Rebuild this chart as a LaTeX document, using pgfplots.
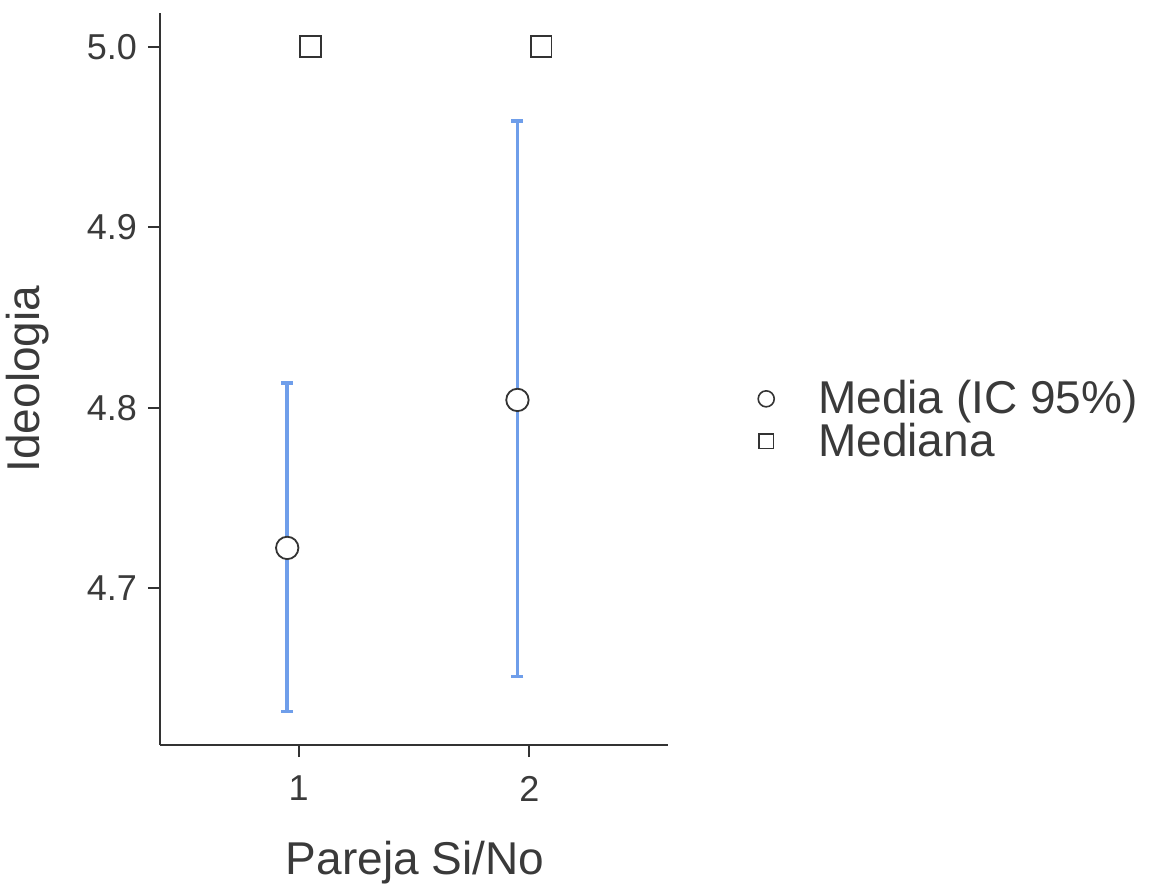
\documentclass[border=0pt]{standalone}
\usepackage{pgfplots}
\pgfplotsset{compat=1.18}
\usepackage{fontspec}
\setmainfont{Liberation Sans}
\definecolor{axc}{HTML}{333333}
\definecolor{txc}{HTML}{3A3A3A}
\definecolor{ebc}{HTML}{6F9EEA}
\begin{document}
\begin{tikzpicture}
\useasboundingbox (-80pt,-70pt) rectangle (500.5pt,372.5pt);
\begin{axis}[
  scale only axis,
  width=254pt, height=366pt,
  xmin=0.4, xmax=2.6,
  ymin=4.6131, ymax=5.0187,
  axis lines=left,
  axis line style={-, line width=1pt, color=axc},
  xtick={1,2}, ytick={4.7,4.8,4.9,5.0},
  tick align=outside, major tick length=6pt,
  tick style={line width=1pt, color=axc},
  /pgf/number format/assume math mode=true,
  yticklabel style={/pgf/number format/fixed, /pgf/number format/fixed zerofill, /pgf/number format/precision=1, xshift=-2pt},
  ticklabel style={font=\fontsize{18}{21}\selectfont, text=txc},
  xticklabel style={yshift=-6pt},
  xlabel={Pareja Si/No}, ylabel={Ideologia},
  label style={font=\fontsize{23}{27}\selectfont, text=txc},
  xlabel style={at={(axis description cs:0.502,-0.16)}, anchor=center},
  ylabel style={at={(axis description cs:-0.26,0.5)}, anchor=center, rotate=0},
  legend style={draw=none, fill=none, at={(axis description cs:1.165,0.444)}, anchor=west,
    font=\fontsize{23}{27}\selectfont, text=txc, row sep=-1pt,
    /tikz/column 1/.style={column sep=20pt},
    legend cell align=left},
  clip=false,
]
% error bars (95% CI)
\addplot[forget plot, only marks, mark=none,
  error bars/.cd, y dir=both, y explicit,
  error bar style={line width=1.8pt, color=ebc},
  error mark=|, error mark options={line width=1.8pt, color=ebc, mark size=3pt}]
  table[x=x, y=y, y error plus=ep, y error minus=em] {
x y ep em
0.951 4.7223 0.0914 0.0907
1.948 4.8043 0.1545 0.1533
};
% means
\addplot[forget plot, only marks, mark=*, mark size=5.6pt,
  mark options={fill=white, draw=axc, line width=0.9pt}]
  coordinates {(0.951,4.7223) (1.948,4.8043)};
% medians
\addplot[forget plot, only marks, mark=square*, mark size=5.2pt,
  mark options={fill=white, draw=axc, line width=0.9pt}]
  coordinates {(1.052,5.0) (2.05,5.0)};
\addlegendimage{only marks, mark=*, mark size=4pt, mark options={fill=white, draw=axc, line width=0.8pt}}
\addlegendentry{Media (IC 95\%)}
\addlegendimage{only marks, mark=square*, mark size=3.7pt, mark options={fill=white, draw=axc, line width=0.8pt}}
\addlegendentry{Mediana}
\end{axis}
\end{tikzpicture}
\end{document}
